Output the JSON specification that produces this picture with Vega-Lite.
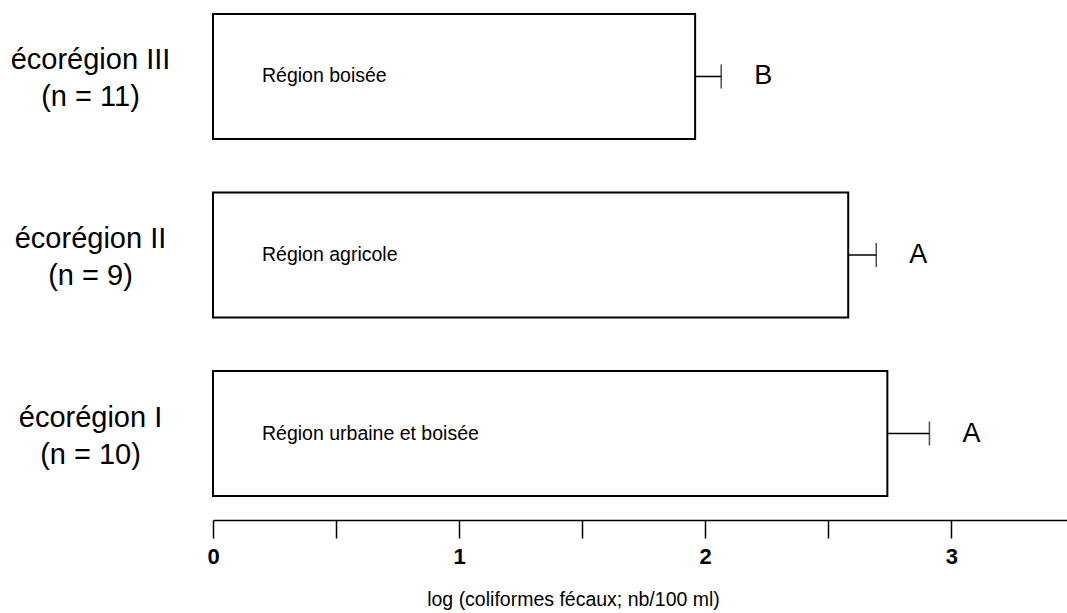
{
  "$schema": "https://vega.github.io/schema/vega-lite/v6.json",
  "width": 854,
  "height": 482,
  "autosize": "none",
  "padding": {"left": 213, "top": 14, "right": 0, "bottom": 117},
  "background": "white",
  "config": {"view": {"stroke": null}, "font": "Liberation Sans"},
  "data": {
    "values": [
      {"eco": "écorégion III|(n = 11)", "region": "Région boisée", "mean": 1.959, "upper": 2.065, "group": "B"},
      {"eco": "écorégion II|(n = 9)", "region": "Région agricole", "mean": 2.581, "upper": 2.695, "group": "A"},
      {"eco": "écorégion I|(n = 10)", "region": "Région urbaine et boisée", "mean": 2.74, "upper": 2.911, "group": "A"}
    ]
  },
  "encoding": {
    "y": {
      "field": "eco",
      "type": "nominal",
      "sort": null,
      "scale": {"paddingInner": 0.3, "paddingOuter": 0},
      "axis": {
        "title": null,
        "domain": false,
        "ticks": false,
        "labelPadding": 123,
        "labelAlign": "center",
        "labelBaseline": "middle",
        "labelOffset": -16,
        "labelFontSize": 29,
        "labelColor": "black",
        "labelLineHeight": 37,
        "labelLimit": 0,
        "labelExpr": "split(datum.label, '|')"
      }
    }
  },
  "layer": [
    {
      "mark": {"type": "bar", "fill": "white", "stroke": "black", "strokeWidth": 2},
      "encoding": {
        "x": {
          "field": "mean",
          "type": "quantitative",
          "scale": {"domain": [0, 3.47], "nice": false, "zero": true},
          "axis": {
            "title": "log (coliformes fécaux; nb/100 ml)",
            "values": [0, 0.5, 1, 1.5, 2, 2.5, 3],
            "labelExpr": "datum.value % 1 === 0 ? format(datum.value, 'd') : ''",
            "offset": 24,
            "grid": false,
            "domainColor": "black",
            "domainWidth": 1.5,
            "tickColor": "black",
            "tickWidth": 1.5,
            "tickSize": 18,
            "labelFontSize": 22,
            "labelFontWeight": "bold",
            "labelColor": "black",
            "labelPadding": 8,
            "labelFlush": false,
            "titleFontSize": 19.5,
            "titleFontWeight": "normal",
            "titleColor": "black",
            "titleX": 360,
            "titleAlign": "center",
            "titlePadding": 23
          }
        }
      }
    },
    {
      "mark": {"type": "rule", "color": "black", "strokeWidth": 1.5},
      "encoding": {
        "x": {"field": "mean", "type": "quantitative"},
        "x2": {"field": "upper"}
      }
    },
    {
      "mark": {"type": "tick", "color": "black", "size": 24, "thickness": 1.5},
      "encoding": {
        "x": {"field": "upper", "type": "quantitative"}
      }
    },
    {
      "mark": {"type": "text", "align": "left", "baseline": "middle", "dx": 49, "dy": 0, "fontSize": 19.5, "color": "black"},
      "encoding": {
        "x": {"datum": 0, "type": "quantitative"},
        "text": {"field": "region"}
      }
    },
    {
      "mark": {"type": "text", "align": "center", "baseline": "middle", "dx": 42, "fontSize": 27, "color": "black"},
      "encoding": {
        "x": {"field": "upper", "type": "quantitative"},
        "text": {"field": "group"}
      }
    }
  ]
}
